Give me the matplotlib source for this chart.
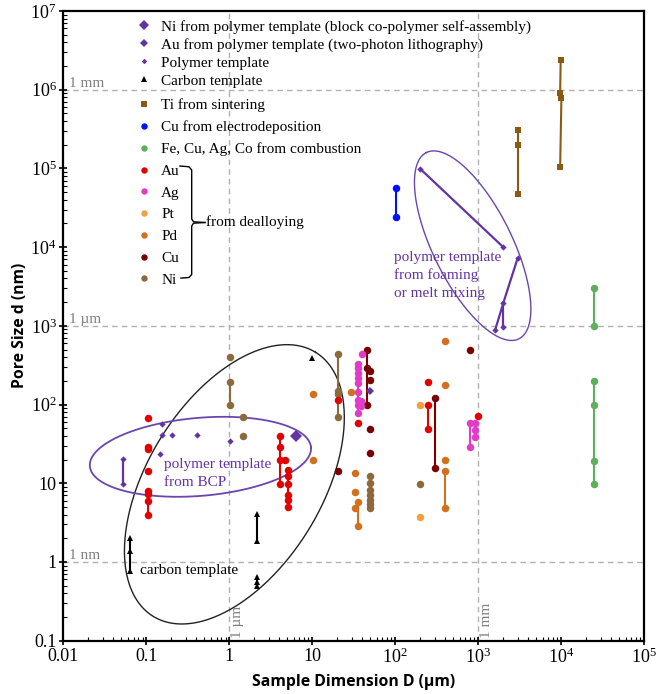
import numpy as np
import matplotlib
matplotlib.use('Agg')
import matplotlib.pyplot as plt
from matplotlib.lines import Line2D
import matplotlib.transforms as mtransforms
from matplotlib.ticker import FixedLocator, FixedFormatter, LogLocator, NullFormatter

plt.rcParams['font.family'] = ['Liberation Serif', 'DejaVu Serif']
plt.rcParams['mathtext.default'] = 'regular'

# ---------------- data ----------------
xtick_vals = [1e-2, 1e-1, 1, 10, 1e2, 1e3, 1e4, 1e5]
xtick_labels = ['0.01', '0.1', '1', '10', r'$10^{2}$', r'$10^{3}$', r'$10^{4}$', r'$10^{5}$']
ytick_vals = [1e-1, 1, 10, 1e2, 1e3, 1e4, 1e5, 1e6, 1e7]
ytick_labels = ['0.1', '1', '10', r'$10^{2}$', r'$10^{3}$', r'$10^{4}$', r'$10^{5}$', r'$10^{6}$', r'$10^{7}$']

# dealloying: Au
au_D = [0.105, 0.105, 0.105, 0.105, 0.105, 0.105, 0.105, 0.105,
        4.05, 4.05, 4.05, 4.05, 4.7,
        5.1, 5.1, 5.1, 5.1, 5.1, 5.1,
        20.4, 35.6, 252, 252, 252, 1010]
au_d = [67, 29, 27, 14.5, 8, 7.3, 6, 4,
        40, 29, 20, 9.8, 20,
        14.6, 12.5, 9.8, 7.0, 6.1, 5.0,
        116, 59, 195, 99, 49, 71]
au_links = [(0.105, 29, 0.105, 27), (0.105, 8, 0.105, 4), (4.05, 40, 4.05, 9.8),
            (5.1, 14.6, 5.1, 5.0), (252, 99, 252, 49)]

# dealloying: Ag
ag_D = [39.7, 35.6, 35.6, 35.6, 35.6, 35.6, 35.6, 35.6, 38.9, 35.6, 38.9, 35.6,
        800, 800, 905, 905, 905]
ag_d = [443, 325, 294, 254, 219, 190, 144, 116, 111, 99, 96, 79,
        59, 29, 59, 47, 38.5]
ag_links = [(35.6, 325, 35.6, 79), (800, 59, 800, 29), (905, 59, 905, 38.5)]

# dealloying: Pt
pt_D = [200, 200]
pt_d = [99, 3.7]

# dealloying: Pd
pd_D = [10.1, 10.1, 29.4, 32.4, 32.4, 35.6, 32.4, 35.6, 400, 400, 400, 400, 400]
pd_d = [137, 19.5, 146, 13.5, 7.7, 5.8, 4.8, 2.9, 644, 177, 19.5, 14.5, 4.8]
pd_links = [(35.6, 5.8, 35.6, 2.9), (400, 14.5, 400, 4.8)]

# dealloying: Cu
cu_D = [45.6, 45.6, 45.6, 50, 50, 50, 50, 20.4, 800, 298, 298]
cu_d = [490, 289, 99, 267, 205, 49, 24, 14.5, 490, 122, 15.7]
cu_links = [(45.6, 490, 45.6, 99), (298, 122, 298, 15.7)]

# dealloying: Ni
ni_D = [1.03, 1.03, 1.03, 1.45, 1.45, 20.4, 20.4, 20.4, 20.4,
        50, 50, 50, 50, 50, 50, 50, 200]
ni_d = [403, 195, 98.6, 69, 40, 436, 149, 135, 69,
        12.5, 10, 8.2, 7.2, 6.2, 5.4, 4.9, 9.8]
ni_links = [(1.03, 195, 1.03, 98.6), (20.4, 436, 20.4, 69), (50, 12.5, 50, 4.9)]

# Cu from electrodeposition
cue_D = [101, 101]
cue_d = [56100, 24500]
cue_links = [(101, 56100, 101, 24500)]

# Ti from sintering
ti_D = [3030, 3030, 3030, 9900, 9750, 10100, 9750]
ti_d = [311000, 196000, 47500, 2.42e6, 920000, 787000, 104000]
ti_links = [(3030, 311000, 3030, 47500), (9900, 2.42e6, 9750, 920000),
            (10100, 787000, 9750, 104000), (9750, 920000, 10100, 787000)]

# Fe, Cu, Ag, Co from combustion
comb_D = [25000, 25000, 25000, 25000, 25000, 25000]
comb_d = [3000, 1000, 200, 98, 19, 9.8]
comb_links = [(25000, 3000, 25000, 1000), (25000, 200, 25000, 9.8)]

# Polymer template (small diamonds)
poly_D = [0.052, 0.052, 0.155, 0.155, 0.204, 0.41, 0.145, 1.03,
          200, 2020, 3000, 2020, 1600, 2020]
poly_d = [20.6, 9.8, 56, 40.5, 40.5, 40.5, 23.9, 34,
          99000, 9950, 7280, 1980, 880, 970]
poly_links = [(0.052, 20.6, 0.052, 9.8), (200, 99000, 2020, 9950),
              (3000, 7280, 2020, 1980), (2020, 1980, 1600, 880), (2020, 1980, 2020, 970)]

# Ni from polymer template (BCP self-assembly)
nibcp_D = [6.3]
nibcp_d = [40]
# Au from polymer template (two-photon lithography)
au2p_D = [50]
au2p_d = [147]

# Carbon template
carb_D = [0.063, 0.063, 0.063, 2.15, 2.15, 2.15, 2.15, 2.15, 10]
carb_d = [2.0, 1.36, 0.76, 4.06, 1.86, 0.64, 0.56, 0.49, 395]
carb_links = [(0.063, 2.0, 0.063, 0.76), (2.15, 4.06, 2.15, 1.86), (2.15, 0.64, 2.15, 0.49)]

# ---------------- styles ----------------
C_PURPLE = '#6433a3'
C_PURPLE_L = '#6d45ad'
C_AU = '#e20000'
C_AG = '#e03cc8'
C_PT = '#f0a040'
C_PD = '#d2701e'
C_CU = '#7a0000'
C_NI = '#8c6a3c'
C_TI = '#8a5a12'
C_BLUE = '#0010ff'
C_GREEN = '#5cb05c'
FS = 11

fig = plt.figure(figsize=(6.58, 6.94), dpi=100)
ax = fig.add_axes([0.0965, 0.0768, 0.8822, 0.9073])
ax.set_xscale('log')
ax.set_yscale('log')
ax.set_xlim(1e-2, 1e5)
ax.set_ylim(1e-1, 1e7)

# reference lines
for yv in [1, 1e3, 1e6]:
    ax.axhline(yv, color='#b0b0b0', lw=1.0, ls=(0, (4, 3)), zorder=1)
for xv in [1, 1e3]:
    ax.axvline(xv, color='#b0b0b0', lw=1.0, ls=(0, (4, 3)), zorder=1)

blend_y = mtransforms.blended_transform_factory(ax.transAxes, ax.transData)
blend_x = mtransforms.blended_transform_factory(ax.transData, ax.transAxes)
for yv, lab in [(1e6, '1 mm'), (1e3, '1 \u00b5m'), (1, '1 nm')]:
    ax.text(0.01, yv, lab, transform=blend_y, color='#808080', fontsize=11,
            ha='left', va='bottom')
for xv, lab in [(1, '1 \u00b5m'), (1e3, '1 mm')]:
    ax.annotate(lab, xy=(xv, 0), xycoords=blend_x, xytext=(1.5, 2),
                textcoords='offset points', rotation=90, color='#808080',
                fontsize=11, ha='left', va='bottom')


def draw(D, d, links, color, marker, ms, lw=1.5, z=3):
    for (x1, y1, x2, y2) in links:
        ax.plot([x1, x2], [y1, y2], color=color, lw=lw, zorder=z)
    ax.plot(D, d, ls='none', marker=marker, ms=ms, color=color,
            markeredgewidth=0, zorder=z + 0.5)


draw(ni_D, ni_d, ni_links, C_NI, 'o', 5.4)
draw(pd_D, pd_d, pd_links, C_PD, 'o', 5.4)
draw(pt_D, pt_d, [], C_PT, 'o', 5.4)
draw(cu_D, cu_d, cu_links, C_CU, 'o', 5.4)
draw(ag_D, ag_d, ag_links, C_AG, 'o', 5.4)
draw(au_D, au_d, au_links, C_AU, 'o', 5.4)
draw(cue_D, cue_d, cue_links, C_BLUE, 'o', 5.4)
draw(comb_D, comb_d, comb_links, C_GREEN, 'o', 5.4)
draw(ti_D, ti_d, ti_links, C_TI, 's', 4.8)
draw(poly_D, poly_d, poly_links, C_PURPLE, 'D', 3.2, lw=1.6)
draw(nibcp_D, nibcp_d, [], C_PURPLE, 'D', 6.2)
draw(au2p_D, au2p_d, [], C_PURPLE, 'D', 4.3)
draw(carb_D, carb_d, carb_links, 'black', '^', 5.0)

# ellipses drawn round in screen space on the log-log axes
pos = ax.get_position()
XPD = fig.get_figwidth() * fig.dpi * pos.width / 7.0
YPD = fig.get_figheight() * fig.dpi * pos.height / 8.0


def log_ellipse(cD, cd, a, b, ang, **kw):
    t = np.linspace(0, 2 * np.pi, 500)
    th = np.deg2rad(ang)
    u = a * np.cos(t) * np.cos(th) - b * np.sin(t) * np.sin(th)
    v = a * np.cos(t) * np.sin(th) + b * np.sin(t) * np.cos(th)
    ax.plot(cD * 10 ** (u / XPD), cd * 10 ** (v / YPD), **kw)


log_ellipse(1.15, 9.7, 155, 87, 58.4, color='#222222', lw=1.0, zorder=2)
log_ellipse(0.448, 21.7, 111, 39, 4.9, color=C_PURPLE_L, lw=1.3, zorder=2)
log_ellipse(859, 10440, 104, 39.5, 116.4, color=C_PURPLE_L, lw=1.0, zorder=2)

# annotations
ax.text(0.165, 13.4, 'polymer template\nfrom BCP', color=C_PURPLE, fontsize=FS,
        ha='left', va='center', linespacing=1.55)
ax.text(0.0848, 0.77, 'carbon template', color='black', fontsize=FS,
        ha='left', va='center')
ax.text(95.5, 4375, 'polymer template\nfrom foaming\nor melt mixing', color=C_PURPLE,
        fontsize=FS, ha='left', va='center', linespacing=1.45)

# legends
h1 = [Line2D([], [], ls='none', marker='D', ms=5.1, color=C_PURPLE, mew=0,
             label='Ni from polymer template (block co-polymer self-assembly)'),
      Line2D([], [], ls='none', marker='D', ms=4.1, color=C_PURPLE, mew=0,
             label='Au from polymer template (two-photon lithography)'),
      Line2D([], [], ls='none', marker='D', ms=2.8, color=C_PURPLE, mew=0,
             label='Polymer template'),
      Line2D([], [], ls='none', marker='^', ms=4.6, color='black', mew=0,
             label='Carbon template')]
h2 = [Line2D([], [], ls='none', marker='s', ms=4.4, color=C_TI, mew=0, label='Ti from sintering'),
      Line2D([], [], ls='none', marker='o', ms=4.6, color=C_BLUE, mew=0, label='Cu from electrodeposition'),
      Line2D([], [], ls='none', marker='o', ms=4.6, color=C_GREEN, mew=0, label='Fe, Cu, Ag, Co from combustion'),
      Line2D([], [], ls='none', marker='o', ms=4.6, color=C_AU, mew=0, label='Au'),
      Line2D([], [], ls='none', marker='o', ms=4.6, color=C_AG, mew=0, label='Ag'),
      Line2D([], [], ls='none', marker='o', ms=4.6, color=C_PT, mew=0, label='Pt'),
      Line2D([], [], ls='none', marker='o', ms=4.6, color=C_PD, mew=0, label='Pd'),
      Line2D([], [], ls='none', marker='o', ms=4.6, color=C_CU, mew=0, label='Cu'),
      Line2D([], [], ls='none', marker='o', ms=4.6, color=C_NI, mew=0, label='Ni')]
leg1 = ax.legend(handles=h1, loc='upper left', bbox_to_anchor=(0.1268, 0.986),
                 frameon=False, fontsize=FS, handlelength=0.95, handletextpad=0.62,
                 labelspacing=0.27, borderpad=0, borderaxespad=0)
ax.add_artist(leg1)
leg2 = ax.legend(handles=h2, loc='upper left', bbox_to_anchor=(0.1268, 0.861),
                 frameon=False, fontsize=FS, handlelength=0.95, handletextpad=0.62,
                 labelspacing=0.53, borderpad=0, borderaxespad=0)

# bracket "from dealloying"
W = fig.get_figwidth() * fig.dpi
H = fig.get_figheight() * fig.dpi


def px2ax(px, py):
    fx = (px / W - pos.x0) / pos.width
    fy = ((H - py) / H - pos.y0) / pos.height
    return fx, fy


up = [(180, 166), (189, 166.8), (191.7, 170), (191.7, 219), (193.5, 221.8), (205, 222.5)]
lo = [(205, 222.5), (193.5, 223.2), (191.7, 226), (191.7, 274.5), (189, 277.5), (181, 278.1)]
for seg in (up, lo):
    pts = [px2ax(*p) for p in seg]
    ax.plot([p[0] for p in pts], [p[1] for p in pts], transform=ax.transAxes,
            color='black', lw=1.0, zorder=4, clip_on=False)
tx, ty = px2ax(206.5, 222.5)
ax.text(tx, ty, 'from dealloying', transform=ax.transAxes, fontsize=FS,
        ha='left', va='center')

# axes styling
for s in ax.spines.values():
    s.set_linewidth(1.6)
ax.xaxis.set_major_locator(FixedLocator(xtick_vals))
ax.xaxis.set_major_formatter(FixedFormatter(xtick_labels))
ax.yaxis.set_major_locator(FixedLocator(ytick_vals))
ax.yaxis.set_major_formatter(FixedFormatter(ytick_labels))
ax.xaxis.set_minor_locator(LogLocator(base=10, subs=np.arange(2, 10), numticks=100))
ax.yaxis.set_minor_locator(LogLocator(base=10, subs=np.arange(2, 10), numticks=100))
ax.xaxis.set_minor_formatter(NullFormatter())
ax.yaxis.set_minor_formatter(NullFormatter())
ax.tick_params(which='major', direction='inout', length=6, width=1.2, labelsize=13, pad=2)
ax.tick_params(which='minor', direction='in', length=3, width=0.8)
ax.tick_params(top=False, right=False)

ax.set_xlabel('Sample Dimension D (\u00b5m)', fontfamily=['Open Sans', 'DejaVu Sans'],
              fontweight='bold', fontsize=11.3, labelpad=5)
ax.set_ylabel('Pore Size d (nm)', fontfamily=['Open Sans', 'DejaVu Sans'],
              fontweight='bold', fontsize=11.3, labelpad=2)

fig.savefig('out.png', dpi=100)
